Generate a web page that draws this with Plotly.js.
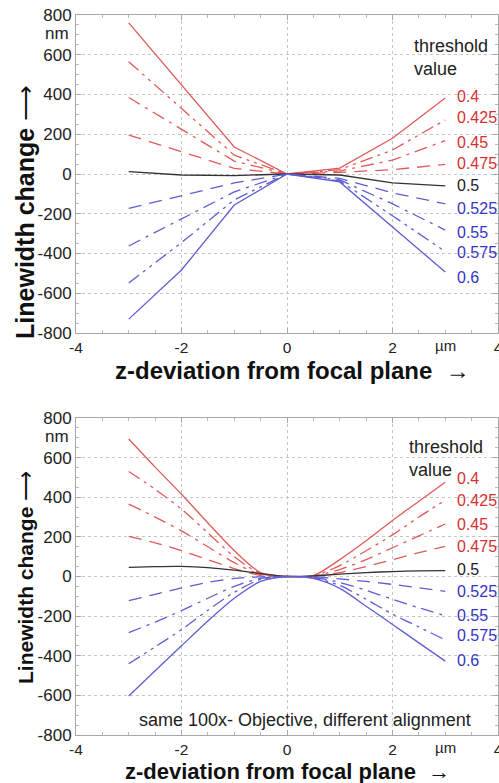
<!DOCTYPE html>
<html>
<head>
<meta charset="utf-8">
<script src="https://cdn.plot.ly/plotly-3.0.1.min.js"></script>
<style>html,body{margin:0;padding:0;background:#fff;}#chart{width:499px;height:783px;}</style>
</head>
<body>
<div id="chart"></div>
<script>
// ---- data ----
const thresholds = ["0.4","0.425","0.45","0.475","0.5","0.525","0.55","0.575","0.6"];

// top panel (piecewise)
const zTop = [-3, -2, -1, 0, 1, 2, 3];
const top040  = [760, 448, 136, 0, 30, 180, 382];
const top0425 = [565, 330, 95, 0, 22, 121, 272];
const top045  = [385, 225, 65, 0, 15, 70, 168];
const top0475 = [196, 112, 28, 0, 8, 22, 48];
const top050  = [12, -5, -8, 0, -5, -45, -60];
const top0525 = [-173, -110, -45, 0, -22, -95, -150];
const top055  = [-362, -225, -90, 0, -30, -150, -282];
const top0575 = [-548, -345, -130, 0, -35, -210, -390];
const top060  = [-730, -483, -156, 0, -40, -265, -493];

// bottom panel (smooth)
const zBot = [-3, -2.5, -2, -1.5, -1, -0.5, 0, 0.5, 1, 1.5, 2, 2.5, 3];
const bot040  = [694, 552, 415, 270, 131, 20, 0, 5, 85, 180, 283, 380, 476];
const bot0425 = [530, 440, 340, 220, 100, 15, 0, 3, 55, 130, 210, 300, 385];
const bot045  = [365, 300, 230, 150, 70, 10, 0, 2, 35, 85, 145, 205, 265];
const bot0475 = [203, 170, 130, 85, 40, 5, 0, 1, 20, 50, 85, 120, 152];
const bot050  = [46, 50, 51, 45, 32, 15, 0, 3, 12, 20, 25, 28, 30];
const bot0525 = [-122, -90, -58, -30, -10, -2, 0, -2, -12, -25, -40, -57, -75];
const bot055  = [-283, -230, -172, -110, -50, -10, 0, -5, -30, -70, -115, -158, -198];
const bot0575 = [-440, -355, -268, -170, -80, -15, 0, -8, -45, -115, -190, -255, -320];
const bot060  = [-603, -476, -350, -225, -110, -25, 0, -10, -60, -150, -242, -335, -427];

// label positions (data coords) for the threshold labels
const labelTopY = [392, 282, 161, 55, -60, -176, -292, -397, -523];
const labelBotY = [496, 385, 263, 152, 35, -76, -197, -299, -425];

const xTicks = [-4, -2, 0, 2, 4];
const yTicks = [-800, -600, -400, -200, 0, 200, 400, 600, 800];

// ---- styles ----
const RED = '#e05a5a', BLUE = '#5d5dd3', BLACK = '#333333';
const RED_T = '#d63030', BLUE_T = '#3535c5', BLACK_T = '#222222';
const DASH = '13px,8px';
const DASHDOT = '13px,6px,3px,6px';
const DASHDOTDOT = '13px,5px,3px,5px,3px,5px';
const lineColors = [RED, RED, RED, RED, BLACK, BLUE, BLUE, BLUE, BLUE];
const textColors = [RED_T, RED_T, RED_T, RED_T, BLACK_T, BLUE_T, BLUE_T, BLUE_T, BLUE_T];
const dashes = ['solid', DASHDOTDOT, DASHDOT, DASH, 'solid', DASH, DASHDOT, DASHDOTDOT, 'solid'];

const topSeries = [top040, top0425, top045, top0475, top050, top0525, top055, top0575, top060];
const botSeries = [bot040, bot0425, bot045, bot0475, bot050, bot0525, bot055, bot0575, bot060];

const traces = [];
topSeries.forEach((ys, i) => traces.push({
  x: zTop, y: ys, xaxis: 'x', yaxis: 'y', mode: 'lines', name: thresholds[i],
  line: {color: lineColors[i], width: 1.3, dash: dashes[i]}, hoverinfo: 'skip'
}));
botSeries.forEach((ys, i) => traces.push({
  x: zBot, y: ys, xaxis: 'x2', yaxis: 'y2', mode: 'lines', name: thresholds[i],
  line: {color: lineColors[i], width: 1.3, dash: dashes[i], shape: 'spline', smoothing: 0.8}, hoverinfo: 'skip'
}));

const FONT = 'Liberation Sans, Arial, sans-serif';
function xAxis(anchor) {
  return {
    anchor: anchor, range: [-4, 4], tickvals: xTicks, ticktext: xTicks.map(String),
    showgrid: true, gridcolor: '#c4c4c4', griddash: 'dot', gridwidth: 1,
    zeroline: false, showline: true, linecolor: '#a8a8a8', linewidth: 1, mirror: 'ticks',
    ticks: 'inside', ticklen: 5, tickcolor: '#a8a8a8', ticklabeloverflow: 'allow',
    minor: {dtick: 0.5, ticks: 'inside', ticklen: 3, tickcolor: '#b8b8b8', showgrid: false},
    tickfont: {family: FONT, size: 15.5, color: '#222'}, fixedrange: true
  };
}
function yAxis(anchor, domain) {
  return {
    anchor: anchor, domain: domain, range: [-800, 800], tickvals: yTicks, ticktext: yTicks.map(String),
    showgrid: true, gridcolor: '#c4c4c4', griddash: 'dot', gridwidth: 1,
    zeroline: false, showline: true, linecolor: '#a8a8a8', linewidth: 1, mirror: 'ticks',
    ticks: 'inside', ticklen: 5, tickcolor: '#a8a8a8',
    minor: {dtick: 50, ticks: 'inside', ticklen: 3, tickcolor: '#b8b8b8', showgrid: false},
    tickfont: {family: FONT, size: 17, color: '#222'}, fixedrange: true
  };
}

const ann = [];
// threshold labels
thresholds.forEach((t, i) => {
  ann.push({xref: 'x', yref: 'y', x: 3.18, y: labelTopY[i], text: t, showarrow: false,
    xanchor: 'left', yanchor: 'middle', font: {family: FONT, size: 16, color: textColors[i]}});
  ann.push({xref: 'x2', yref: 'y2', x: 3.18, y: labelBotY[i], text: t, showarrow: false,
    xanchor: 'left', yanchor: 'middle', font: {family: FONT, size: 16, color: textColors[i]}});
});
// "threshold value"
ann.push({xref: 'x', yref: 'y', x: 2.37, y: 585, text: 'threshold<br>value', align: 'left', showarrow: false,
  xanchor: 'left', yanchor: 'middle', font: {family: FONT, size: 18, color: '#222'}});
ann.push({xref: 'x2', yref: 'y2', x: 2.28, y: 593, text: 'threshold<br>value', align: 'left', showarrow: false,
  xanchor: 'left', yanchor: 'middle', font: {family: FONT, size: 18, color: '#222'}});
// units
ann.push({xref: 'paper', yref: 'y', x: -0.012, y: 705, text: 'nm', showarrow: false,
  xanchor: 'right', yanchor: 'middle', font: {family: FONT, size: 17, color: '#222'}});
ann.push({xref: 'paper', yref: 'y2', x: -0.012, y: 705, text: 'nm', showarrow: false,
  xanchor: 'right', yanchor: 'middle', font: {family: FONT, size: 17, color: '#222'}});
ann.push({xref: 'x', yref: 'paper', x: 3, y: 0.5583, yshift: -2, text: 'µm', showarrow: false,
  xanchor: 'center', yanchor: 'top', font: {family: FONT, size: 15, color: '#222'}});
ann.push({xref: 'x2', yref: 'paper', x: 3, y: 0, yshift: -2, text: 'µm', showarrow: false,
  xanchor: 'center', yanchor: 'top', font: {family: FONT, size: 15, color: '#222'}});
// note
ann.push({xref: 'x2', yref: 'y2', x: 0.35, y: -722, text: 'same 100x- Objective, different alignment', showarrow: false,
  xanchor: 'center', yanchor: 'middle', font: {family: FONT, size: 18, color: '#222'}});
// axis titles
ann.push({xref: 'paper', yref: 'paper', x: 0.512, y: 0.5069, text: '<b>z-deviation from focal plane</b>  <b>→</b>', showarrow: false,
  xanchor: 'center', yanchor: 'middle', font: {family: FONT, size: 24, color: '#111'}});
ann.push({xref: 'paper', yref: 'paper', x: 0.5, y: -0.05, text: '<b>z-deviation from focal plane</b>  <b>→</b>', showarrow: false,
  xanchor: 'center', yanchor: 'middle', font: {family: FONT, size: 22, color: '#111'}});
ann.push({xref: 'paper', yref: 'paper', x: -0.121, y: 0.7264, text: '<b>Linewidth change</b> ⟶', showarrow: false, textangle: -90,
  xanchor: 'center', yanchor: 'middle', font: {family: FONT, size: 25, color: '#111'}});
ann.push({xref: 'paper', yref: 'paper', x: -0.121, y: 0.2194, text: '<b>Linewidth change</b> ⟶', showarrow: false, textangle: -90,
  xanchor: 'center', yanchor: 'middle', font: {family: FONT, size: 21, color: '#111'}});

const layout = {
  width: 499, height: 783,
  margin: {l: 76, r: 1, t: 15, b: 48},
  paper_bgcolor: '#fff', plot_bgcolor: '#fff',
  showlegend: false,
  font: {family: FONT, color: '#222'},
  xaxis: xAxis('y'),
  yaxis: yAxis('x', [0.5583, 1]),
  xaxis2: xAxis('y2'),
  yaxis2: yAxis('x2', [0, 0.4403]),
  annotations: ann
};

Plotly.newPlot('chart', traces, layout, {staticPlot: true, displayModeBar: false});
</script>
</body>
</html>
